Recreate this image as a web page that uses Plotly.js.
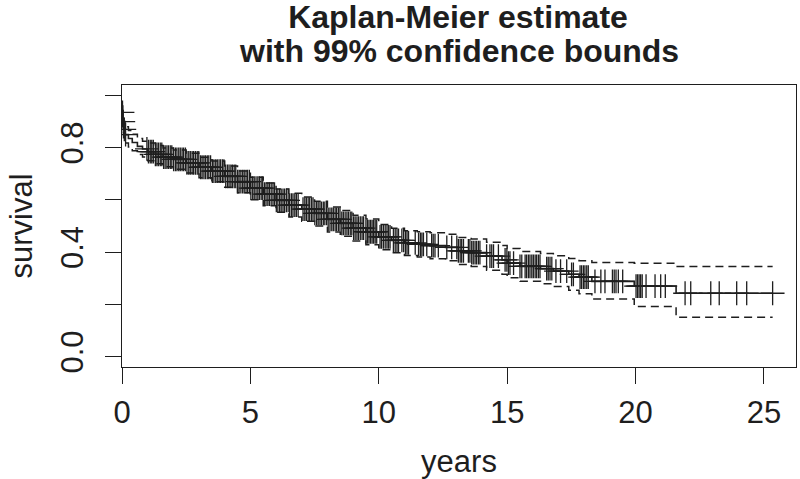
<!DOCTYPE html>
<html>
<head>
<meta charset="utf-8">
<script src="https://cdn.plot.ly/plotly-3.0.1.min.js"></script>
<style>html,body{margin:0;padding:0;background:#fff;}#chart{width:800px;height:479px;}</style>
</head>
<body>
<div id="chart"></div>
<script>
// Kaplan-Meier step values
const eventTimes = [0, 0.03, 0.06, 0.12, 0.25, 0.4, 0.6, 0.8, 1.0, 1.3, 1.6, 2.0, 2.5, 3.0, 3.5, 4.0, 4.5, 5.0, 5.5, 6.0, 6.5, 7.0, 7.5, 8.0, 8.5, 9.0, 9.5, 10.0, 10.5, 11.0, 11.5, 12.0, 12.6, 13.1, 13.6, 14.2, 14.8, 15.0, 15.5, 16.3, 16.8, 17.4, 17.8, 18.3, 19.95, 21.58];
const survival = [0.935, 0.900, 0.870, 0.850, 0.835, 0.820, 0.805, 0.795, 0.785, 0.774, 0.764, 0.755, 0.742, 0.725, 0.710, 0.690, 0.670, 0.645, 0.622, 0.598, 0.580, 0.565, 0.548, 0.525, 0.510, 0.492, 0.478, 0.458, 0.445, 0.435, 0.430, 0.425, 0.418, 0.405, 0.398, 0.385, 0.370, 0.358, 0.345, 0.337, 0.327, 0.315, 0.304, 0.288, 0.270, 0.2425];
const upper = [0.960, 0.928, 0.900, 0.880, 0.866, 0.851, 0.835, 0.825, 0.818, 0.808, 0.799, 0.791, 0.779, 0.763, 0.749, 0.730, 0.711, 0.687, 0.665, 0.642, 0.625, 0.611, 0.595, 0.573, 0.559, 0.541, 0.527, 0.506, 0.491, 0.482, 0.478, 0.474, 0.468, 0.456, 0.450, 0.438, 0.425, 0.414, 0.402, 0.395, 0.386, 0.376, 0.367, 0.360, 0.357, 0.345];
const lower = [0.905, 0.868, 0.838, 0.818, 0.803, 0.788, 0.774, 0.764, 0.750, 0.738, 0.727, 0.717, 0.703, 0.685, 0.669, 0.648, 0.627, 0.601, 0.578, 0.553, 0.534, 0.518, 0.500, 0.477, 0.461, 0.443, 0.428, 0.409, 0.398, 0.387, 0.381, 0.375, 0.367, 0.353, 0.345, 0.331, 0.315, 0.302, 0.288, 0.279, 0.268, 0.254, 0.241, 0.220, 0.192, 0.151];
const lastFollowUp = 25.34;
// censoring times (tick marks)
const censorTimes = [0.02, 0.05, 0.09, 0.14,
 0.97, 1.03, 1.10, 1.16, 1.22, 1.30, 1.36, 1.42, 1.49, 1.55, 1.62, 1.68, 1.75, 1.81, 1.88, 1.94, 2.01, 2.08, 2.14, 2.21, 2.27, 2.34, 2.40, 2.47, 2.53, 2.60, 2.66, 2.73, 2.79, 2.86, 2.93, 2.99, 3.06, 3.12, 3.19, 3.25, 3.32, 3.38, 3.45, 3.52, 3.58, 3.65, 3.71, 3.78, 3.84, 3.91, 3.97, 4.04, 4.11, 4.17, 4.24, 4.30, 4.37, 4.43, 4.50, 4.56, 4.63, 4.70, 4.76, 4.83, 4.89, 4.96, 5.02, 5.09, 5.15, 5.22, 5.29, 5.35, 5.42, 5.48, 5.55, 5.61, 5.68, 5.74, 5.81, 5.88, 5.94, 6.01, 6.07, 6.14, 6.20, 6.27, 6.33, 6.40, 6.47, 6.53, 6.60, 6.66, 6.73, 6.79, 6.86, 7.05, 7.12, 7.18, 7.25, 7.31, 7.38, 7.44, 7.51, 7.58, 7.64, 7.71, 7.77, 7.84, 7.90, 7.97, 8.03, 8.10, 8.17, 8.23, 8.30, 8.36, 8.43, 8.49, 8.56, 8.62, 8.69, 8.76, 8.82, 8.89, 8.95, 9.02, 9.08, 9.15, 9.21, 9.28, 9.35, 9.41,
 9.50, 9.56, 9.62, 9.68, 9.74, 9.80, 9.86, 9.92, 10.05, 10.11, 10.18, 10.25, 10.32, 10.38, 10.44, 10.57, 10.64, 10.71, 10.77, 10.90, 10.97, 11.04, 11.10, 11.16, 11.42, 11.55, 11.62, 11.68, 11.74, 11.87, 12.06, 12.12, 12.19, 12.32, 12.65, 12.84, 13.04, 13.10, 13.17, 13.23, 13.30, 13.49, 13.55, 13.62, 13.68, 13.75, 13.81, 13.88, 13.94, 14.20, 14.33, 14.40, 14.47, 14.66, 14.92, 14.99, 15.05, 15.11, 15.25, 15.50, 15.57, 15.70, 15.76, 15.83, 15.89, 15.96, 16.02, 16.09, 16.15, 16.22, 16.28, 16.54, 16.60, 16.67, 16.74, 16.90, 17.08, 17.32, 17.51, 17.58, 17.84, 17.90, 17.97, 18.03, 18.10, 18.16, 18.42, 18.65, 18.81, 19.10, 19.17, 19.24, 19.33, 19.50, 20.02, 20.08, 20.14, 20.20, 20.26, 20.41, 20.76, 20.98, 21.16, 21.93, 22.15, 22.93, 23.26, 23.94, 24.33, 25.34];
const xTicks = [0, 5, 10, 15, 20, 25];
const yTicks = [0, 0.2, 0.4, 0.6, 0.8, 1.0];
const yTickText = ['0.0', '', '0.4', '', '0.8', ''];
const titleLines = ['Kaplan-Meier estimate', 'with 99% confidence bounds'];

function stepAt(times, vals, t) {
  let v = vals[0];
  for (let i = 0; i < times.length; i++) { if (times[i] <= t) v = vals[i]; else break; }
  return v;
}
const ink = '#1e1e1e';
const xs = eventTimes.concat([lastFollowUp]);
const withEnd = arr => arr.concat([arr[arr.length - 1]]);

const traces = [
  {x: xs, y: withEnd(upper), mode: 'lines', line: {shape: 'hv', color: ink, width: 1.5, dash: '8px,5px'}, hoverinfo: 'skip'},
  {x: xs, y: withEnd(lower), mode: 'lines', line: {shape: 'hv', color: ink, width: 1.5, dash: '8px,5px'}, hoverinfo: 'skip'},
  {x: xs, y: withEnd(survival), mode: 'lines', line: {shape: 'hv', color: ink, width: 1.6}},
  {x: censorTimes, y: censorTimes.map(t => stepAt(eventTimes, survival, t)), mode: 'markers',
   marker: {symbol: 'cross-thin-open', size: 17, color: ink, line: {width: 1.3, color: ink}}}
];
const font = 'Liberation Sans, Arial, Helvetica, sans-serif';
const layout = {
  width: 800, height: 479,
  margin: {l: 122, r: 4, t: 85, b: 112, pad: 0},
  paper_bgcolor: '#fff', plot_bgcolor: '#fff',
  showlegend: false,
  font: {family: font, color: ink, size: 31},
  title: {text: '<b>' + titleLines[0] + '</b>', font: {family: font, size: 32, color: ink},
          x: 0.5725, xanchor: 'center', xref: 'container', y: 1 - 17 / 479, yanchor: 'middle', yref: 'container'},
  annotations: [
    {text: '<b>' + titleLines[1] + '</b>', xref: 'paper', yref: 'paper', x: 0.5, y: (282 + 85 - 51) / 282,
     xanchor: 'center', yanchor: 'middle', showarrow: false, font: {family: font, size: 32, color: ink}}
  ],
  xaxis: {range: [0, 26.25], tickvals: xTicks, ticktext: xTicks.map(String), ticks: 'outside', ticklen: 16, tickwidth: 1, tickcolor: ink,
          showline: true, mirror: true, linecolor: ink, linewidth: 1, showgrid: false, zeroline: false,
          tickfont: {size: 31}, ticklabelstandoff: 2,
          title: {text: 'years', font: {size: 31}, standoff: 24}},
  yaxis: {range: [-0.04, 1.04], tickvals: yTicks, ticktext: yTickText, ticks: 'outside', ticklen: 16, tickwidth: 1, tickcolor: ink,
          showline: true, mirror: true, linecolor: ink, linewidth: 1, showgrid: false, zeroline: false,
          tickangle: -90, tickfont: {size: 31}, ticklabelstandoff: 10,
          title: {text: 'survival', font: {size: 31}, standoff: 12}}
};
Plotly.newPlot('chart', traces, layout, {staticPlot: true, displayModeBar: false});
</script>
</body>
</html>
